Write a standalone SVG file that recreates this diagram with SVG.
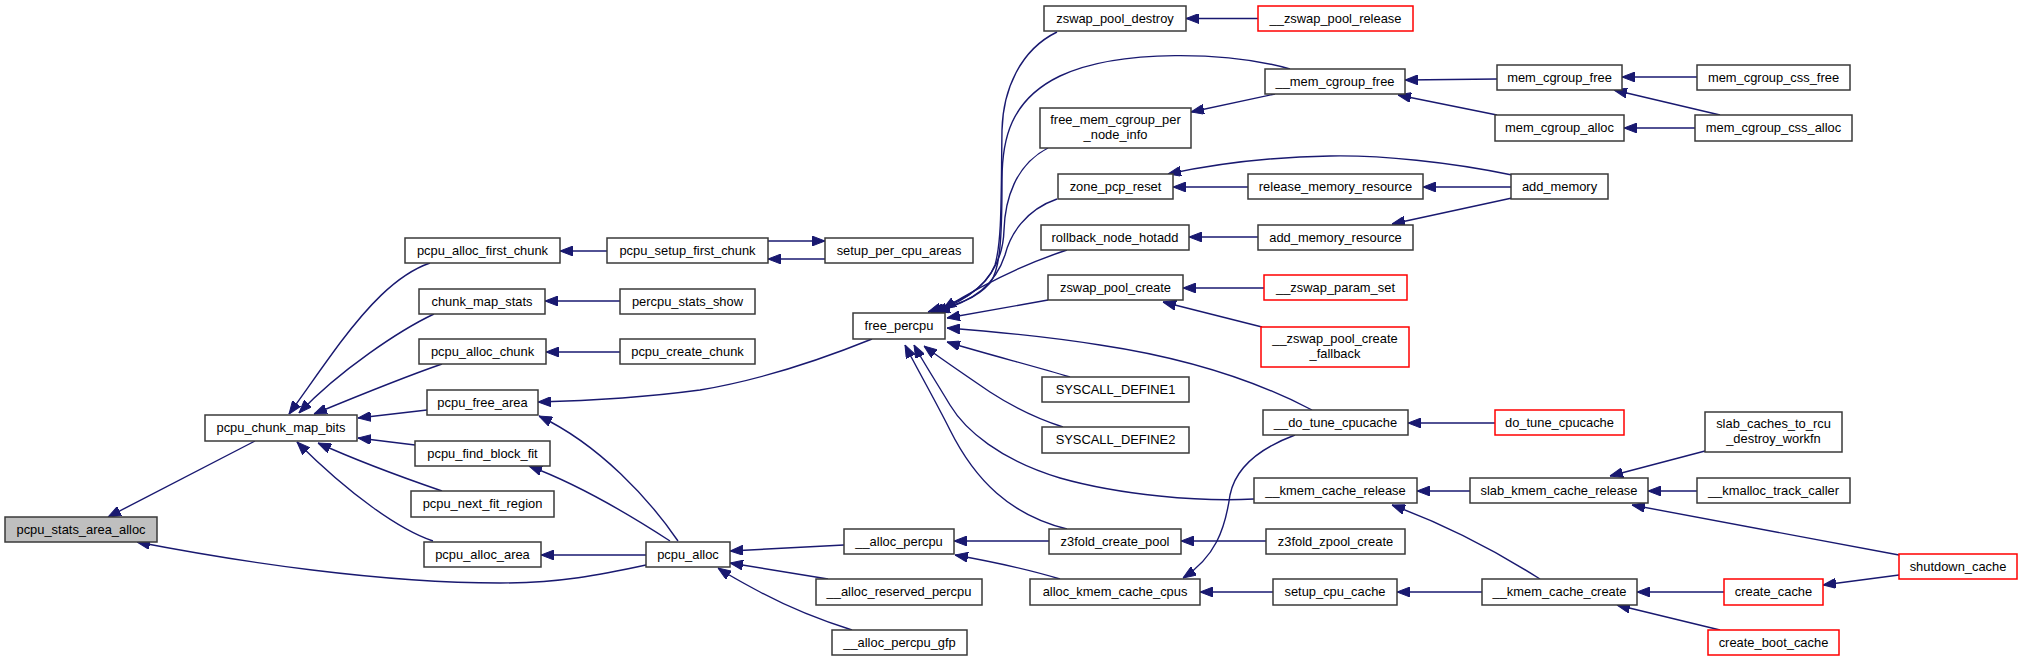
<svg xmlns="http://www.w3.org/2000/svg" width="2031" height="661" viewBox="0 0 2031 661">
<style>
rect{fill:#ffffff;stroke:#3a3a3a;stroke-width:1.5}
.red rect{stroke:#ff0000}
.cur rect{fill:#bfbfbf}
text{font-family:"Liberation Sans",Arial,Helvetica,sans-serif;font-size:12.9px;fill:#000000;text-anchor:middle}
#edges path{fill:none;stroke:#191970;stroke-width:1.4;marker-end:url(#arr)}
</style>
<defs>
<marker id="arr" viewBox="0 0 13 10" refX="13" refY="5" markerWidth="13" markerHeight="10" markerUnits="userSpaceOnUse" orient="auto">
<path d="M0,0 L13,5 L0,10 z" fill="#191970" stroke="#191970" stroke-width="1"/>
</marker>
</defs>
<rect x="0" y="0" width="2031" height="661" style="fill:#ffffff;stroke:none"/>
<g id="edges">
<path d="M255,441 L108,517"/>
<path d="M646,565 C600,575 560,583 500,583 C380,583 240,562 137,542"/>
<path d="M430,263 C395,275 365,310 340,343 C320,370 305,392 289,414"/>
<path d="M434,314 C400,330 340,370 299,413"/>
<path d="M442,364 C410,375 360,395 314,414"/>
<path d="M427,410 L358,418"/>
<path d="M415,445 L358,438"/>
<path d="M442,491 C410,480 360,462 318,443"/>
<path d="M433,541 C400,530 350,495 297,442"/>
<path d="M607,251 L560,251"/>
<path d="M825,259 L768,259"/>
<path d="M768,241 L825,241"/>
<path d="M620,301 L545,301"/>
<path d="M620,352 L546,352"/>
<path d="M872,339 C820,360 760,380 700,390 C640,398 580,401 538,402"/>
<path d="M678,541 C650,500 600,445 539,416"/>
<path d="M670,541 C630,515 580,485 529,466"/>
<path d="M646,555 L541,555"/>
<path d="M844,545 L730,551"/>
<path d="M828,579 L730,563"/>
<path d="M852,630 C820,620 790,608 760,592 C745,584 730,576 718,568"/>
<path d="M1049,541 L954,541"/>
<path d="M1060,579 C1040,573 1000,563 955,555"/>
<path d="M1057,32 C1020,50 1003,90 1002,130 C1001,200 1002,240 995,265 C985,290 960,302 928,312"/>
<path d="M1290,69 C1230,52 1120,48 1060,76 C1010,100 1002,140 1002,180 C1002,240 1000,270 990,283 C975,300 955,305 931,312"/>
<path d="M1048,148 C1015,165 1005,200 1004,230 C1003,265 985,295 934,312"/>
<path d="M1057,199 C1025,210 1010,235 1005,255 C995,285 975,300 937,312"/>
<path d="M1067,250 C1030,262 990,280 943,309"/>
<path d="M1048,300 L947,318"/>
<path d="M1312,410 C1270,388 1200,360 1100,345 C1050,337 1000,332 947,328"/>
<path d="M1070,377 C1030,365 990,355 947,342"/>
<path d="M1063,427 C1035,418 1010,405 990,392 C965,375 940,358 924,346"/>
<path d="M1254,499 C1200,502 1120,495 1060,478 C1000,460 965,430 950,405 C935,380 922,360 914,345"/>
<path d="M1067,529 C1010,515 975,480 950,430 C935,400 915,365 905,345"/>
<path d="M1258,18.5 L1186,18.5"/>
<path d="M1275,94 L1191,112"/>
<path d="M1497,79 L1405,80"/>
<path d="M1497,115 L1398,95"/>
<path d="M1697,77 L1622,77"/>
<path d="M1720,115 L1614,90"/>
<path d="M1695,128 L1624,128"/>
<path d="M1248,187 L1173,187"/>
<path d="M1512,175 C1450,162 1380,155 1330,156 C1270,157 1210,165 1168,174"/>
<path d="M1511,187 L1423,187"/>
<path d="M1512,198 L1392,224"/>
<path d="M1258,237 L1189,237"/>
<path d="M1264,288 L1183,288"/>
<path d="M1262,327 L1163,302"/>
<path d="M1495,423 L1408,423"/>
<path d="M1295,435 C1255,450 1235,470 1230,495 C1225,530 1215,557 1183,578"/>
<path d="M1470,491 L1417,491"/>
<path d="M1540,579 C1510,560 1460,530 1392,505"/>
<path d="M1705,451 L1610,476"/>
<path d="M1697,491 L1648,491"/>
<path d="M1899,555 L1632,505"/>
<path d="M1899,575 L1823,585"/>
<path d="M1724,592 L1637,592"/>
<path d="M1720,630 L1617,605"/>
<path d="M1273,592 L1200,592"/>
<path d="M1482,592 L1397,592"/>
<path d="M1266,541 L1181,541"/>
</g>
<g id="n1" class="cur"><rect x="5" y="517" width="152" height="25"/><text x="81" y="533.8">pcpu_stats_area_alloc</text></g>
<g id="n2"><rect x="205" y="415" width="152" height="26"/><text x="281" y="432.3">pcpu_chunk_map_bits</text></g>
<g id="n3"><rect x="405" y="238" width="155" height="25"/><text x="482.5" y="254.8">pcpu_alloc_first_chunk</text></g>
<g id="n4"><rect x="419" y="289" width="126" height="25"/><text x="482" y="305.8">chunk_map_stats</text></g>
<g id="n5"><rect x="419" y="339" width="127" height="25"/><text x="482.5" y="355.8">pcpu_alloc_chunk</text></g>
<g id="n6"><rect x="427" y="390" width="111" height="25"/><text x="482.5" y="406.8">pcpu_free_area</text></g>
<g id="n7"><rect x="415" y="441" width="135" height="25"/><text x="482.5" y="457.8">pcpu_find_block_fit</text></g>
<g id="n8"><rect x="411" y="491" width="143" height="26"/><text x="482.5" y="508.3">pcpu_next_fit_region</text></g>
<g id="n9"><rect x="424" y="542" width="117" height="25"/><text x="482.5" y="558.8">pcpu_alloc_area</text></g>
<g id="n10"><rect x="607" y="238" width="161" height="25"/><text x="687.5" y="254.8">pcpu_setup_first_chunk</text></g>
<g id="n11"><rect x="825" y="238" width="148" height="25"/><text x="899" y="254.8">setup_per_cpu_areas</text></g>
<g id="n12"><rect x="620" y="289" width="135" height="25"/><text x="687.5" y="305.8">percpu_stats_show</text></g>
<g id="n13"><rect x="620" y="339" width="135" height="25"/><text x="687.5" y="355.8">pcpu_create_chunk</text></g>
<g id="n14"><rect x="853" y="313" width="92" height="26"/><text x="899" y="330.3">free_percpu</text></g>
<g id="n15"><rect x="646" y="542" width="84" height="25"/><text x="688" y="558.8">pcpu_alloc</text></g>
<g id="n16"><rect x="844" y="529" width="110" height="25"/><text x="899" y="545.8">__alloc_percpu</text></g>
<g id="n17"><rect x="816" y="579" width="166" height="26"/><text x="899" y="596.3">__alloc_reserved_percpu</text></g>
<g id="n18"><rect x="832" y="630" width="135" height="25"/><text x="899.5" y="646.8">__alloc_percpu_gfp</text></g>
<g id="n19"><rect x="1044" y="6" width="142" height="25"/><text x="1115" y="22.8">zswap_pool_destroy</text></g>
<g id="n20" class="red"><rect x="1258" y="6" width="155" height="25"/><text x="1335.5" y="22.8">__zswap_pool_release</text></g>
<g id="n21"><rect x="1265" y="69" width="140" height="25"/><text x="1335" y="85.8">__mem_cgroup_free</text></g>
<g id="n22"><rect x="1040" y="108" width="151" height="40"/><text x="1115.5" y="124.3">free_mem_cgroup_per</text><text x="1115.5" y="139">_node_info</text></g>
<g id="n23"><rect x="1058" y="174" width="115" height="25"/><text x="1115.5" y="190.8">zone_pcp_reset</text></g>
<g id="n24"><rect x="1248" y="174" width="175" height="25"/><text x="1335.5" y="190.8">release_memory_resource</text></g>
<g id="n25"><rect x="1511" y="174" width="97" height="25"/><text x="1559.5" y="190.8">add_memory</text></g>
<g id="n26"><rect x="1041" y="225" width="148" height="25"/><text x="1115" y="241.8">rollback_node_hotadd</text></g>
<g id="n27"><rect x="1258" y="225" width="155" height="25"/><text x="1335.5" y="241.8">add_memory_resource</text></g>
<g id="n28"><rect x="1048" y="275" width="135" height="25"/><text x="1115.5" y="291.8">zswap_pool_create</text></g>
<g id="n29" class="red"><rect x="1264" y="275" width="143" height="25"/><text x="1335.5" y="291.8">__zswap_param_set</text></g>
<g id="n30" class="red"><rect x="1261" y="327" width="148" height="40"/><text x="1335" y="343.3">__zswap_pool_create</text><text x="1335" y="358">_fallback</text></g>
<g id="n31"><rect x="1497" y="65" width="125" height="25"/><text x="1559.5" y="81.8">mem_cgroup_free</text></g>
<g id="n32"><rect x="1495" y="115" width="129" height="26"/><text x="1559.5" y="132.3">mem_cgroup_alloc</text></g>
<g id="n33"><rect x="1697" y="65" width="153" height="25"/><text x="1773.5" y="81.8">mem_cgroup_css_free</text></g>
<g id="n34"><rect x="1695" y="115" width="157" height="26"/><text x="1773.5" y="132.3">mem_cgroup_css_alloc</text></g>
<g id="n35"><rect x="1042" y="377" width="147" height="25"/><text x="1115.5" y="393.8">SYSCALL_DEFINE1</text></g>
<g id="n36"><rect x="1042" y="427" width="147" height="26"/><text x="1115.5" y="444.3">SYSCALL_DEFINE2</text></g>
<g id="n37"><rect x="1263" y="410" width="145" height="25"/><text x="1335.5" y="426.8">__do_tune_cpucache</text></g>
<g id="n38" class="red"><rect x="1495" y="410" width="129" height="25"/><text x="1559.5" y="426.8">do_tune_cpucache</text></g>
<g id="n39"><rect x="1254" y="478" width="163" height="25"/><text x="1335.5" y="494.8">__kmem_cache_release</text></g>
<g id="n40"><rect x="1470" y="478" width="178" height="25"/><text x="1559" y="494.8">slab_kmem_cache_release</text></g>
<g id="n41"><rect x="1049" y="529" width="132" height="25"/><text x="1115" y="545.8">z3fold_create_pool</text></g>
<g id="n42"><rect x="1266" y="529" width="139" height="25"/><text x="1335.5" y="545.8">z3fold_zpool_create</text></g>
<g id="n43"><rect x="1030" y="579" width="170" height="26"/><text x="1115" y="596.3">alloc_kmem_cache_cpus</text></g>
<g id="n44"><rect x="1273" y="579" width="124" height="26"/><text x="1335" y="596.3">setup_cpu_cache</text></g>
<g id="n45"><rect x="1482" y="579" width="155" height="26"/><text x="1559.5" y="596.3">__kmem_cache_create</text></g>
<g id="n46"><rect x="1705" y="412" width="137" height="40"/><text x="1773.5" y="428.3">slab_caches_to_rcu</text><text x="1773.5" y="443">_destroy_workfn</text></g>
<g id="n47"><rect x="1697" y="478" width="153" height="25"/><text x="1773.5" y="494.8">__kmalloc_track_caller</text></g>
<g id="n48" class="red"><rect x="1899" y="554" width="118" height="25"/><text x="1958" y="570.8">shutdown_cache</text></g>
<g id="n49" class="red"><rect x="1724" y="579" width="99" height="26"/><text x="1773.5" y="596.3">create_cache</text></g>
<g id="n50" class="red"><rect x="1708" y="630" width="131" height="25"/><text x="1773.5" y="646.8">create_boot_cache</text></g>
</svg>
